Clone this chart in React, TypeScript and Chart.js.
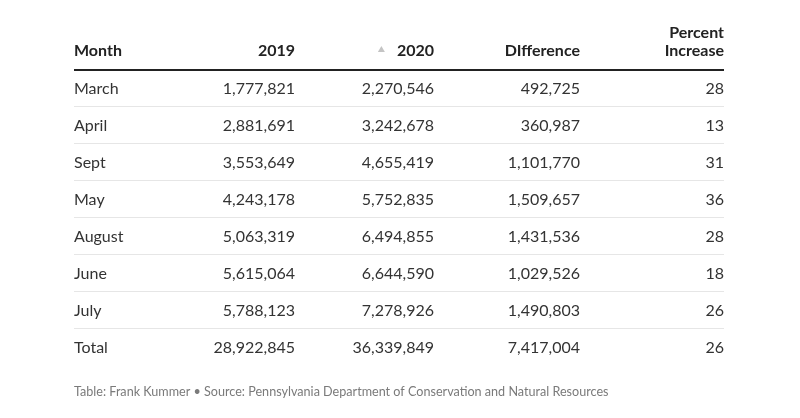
import { useEffect, useRef } from 'react';
import { Chart, registerables } from 'chart.js';

Chart.register(...registerables);

// ---- Data ----
const months = ['March', 'April', 'Sept', 'May', 'August', 'June', 'July', 'Total'];
const visits2019 = [1777821, 2881691, 3553649, 4243178, 5063319, 5615064, 5788123, 28922845];
const visits2020 = [2270546, 3242678, 4655419, 5752835, 6494855, 6644590, 7278926, 36339849];
const difference = [492725, 360987, 1101770, 1509657, 1431536, 1029526, 1490803, 7417004];
const percentIncrease = [28, 13, 31, 36, 28, 18, 26, 26];
const headerLabels = [['Month'], ['2019'], ['2020'], ['DIfference'], ['Percent', 'Increase']];
const footerText = 'Table: Frank Kummer • Source: Pennsylvania Department of Conservation and Natural Resources';

// ---- Layout (positions only) ----
const FONT = 'Lato, "Open Sans", sans-serif';
const columnAnchors = [0, 221, 360, 506, 650];
const sortedColumn = 2;

const fmt = (v: number | string) => (typeof v === 'number' ? v.toLocaleString('en-US') : v);

const tablePlugin = {
  id: 'tableText',
  afterDatasetsDraw(chart: any) {
    const ctx: CanvasRenderingContext2D = chart.ctx;
    const area = chart.chartArea;
    ctx.save();
    ctx.textBaseline = 'alphabetic';
    chart.data.datasets.forEach((ds: any, di: number) => {
      const meta = chart.getDatasetMeta(di);
      const align: CanvasTextAlign = di === 0 ? 'left' : 'right';
      ctx.textAlign = align;
      ctx.font = `16px ${FONT}`;
      ctx.fillStyle = '#333333';
      meta.data.forEach((pt: any, i: number) => {
        const raw = ds.data[i];
        ctx.fillText(fmt(raw.v), pt.x, pt.y + 6);
      });
      // header
      const hx = meta.data[0].x;
      ctx.font = `bold 16px ${FONT}`;
      ctx.fillStyle = '#222222';
      const lines = headerLabels[di];
      lines.forEach((l: string, li: number) => {
        ctx.fillText(l, hx, area.top - 13.5 - (lines.length - 1 - li) * 18);
      });
      if (di === sortedColumn) {
        const w = ctx.measureText(lines[0]).width;
        const right = hx - w - 12;
        const base = area.top - 17.5;
        ctx.fillStyle = '#c4c4c4';
        ctx.beginPath();
        ctx.moveTo(right - 7, base);
        ctx.lineTo(right, base);
        ctx.lineTo(right - 3.5, base - 6);
        ctx.closePath();
        ctx.fill();
      }
    });
    // footer
    ctx.textAlign = 'left';
    ctx.font = `12.6px ${FONT}`;
    ctx.fillStyle = '#7a7a7a';
    ctx.fillText(footerText, area.left, area.bottom + 30);
    ctx.restore();
  },
};

export default function App() {
  const canvasRef = useRef<HTMLCanvasElement | null>(null);

  useEffect(() => {
    if (!canvasRef.current) return;
    const columns = [months, visits2019, visits2020, difference, percentIncrease];
    const chart = new Chart(canvasRef.current, {
      type: 'scatter',
      data: {
        labels: months,
        datasets: columns.map((vals, ci) => ({
          label: headerLabels[ci].join(' '),
          data: (vals as any[]).map((v, ri) => ({ x: columnAnchors[ci], y: months[ri], v })),
          pointRadius: 0,
          pointHoverRadius: 0,
          showLine: false,
        })),
      } as any,
      options: {
        animation: false,
        responsive: false,
        events: [],
        layout: { padding: { left: 74, right: 76, top: 69.5, bottom: 52.5 } },
        plugins: { legend: { display: false }, tooltip: { enabled: false }, title: { display: false } },
        scales: {
          x: { type: 'linear', min: 0, max: 650, display: false },
          y: {
            type: 'category',
            labels: months,
            offset: true,
            border: { display: false },
            ticks: { display: false },
            grid: {
              offset: true,
              drawTicks: false,
              color: (c: any) =>
                c.index === 0 ? '#222222' : c.index === undefined ? 'rgba(0,0,0,0)' : '#e6e6e6',
              lineWidth: (c: any) => (c.index === 0 ? 2 : 1),
            },
          },
        },
      } as any,
      plugins: [tablePlugin],
    });
    return () => chart.destroy();
  }, []);

  return (
    <div style={{ position: 'fixed', left: 0, top: 0, width: 800, height: 418, background: '#fff' }}>
      <canvas ref={canvasRef} width={800} height={418} style={{ display: 'block' }} />
    </div>
  );
}
